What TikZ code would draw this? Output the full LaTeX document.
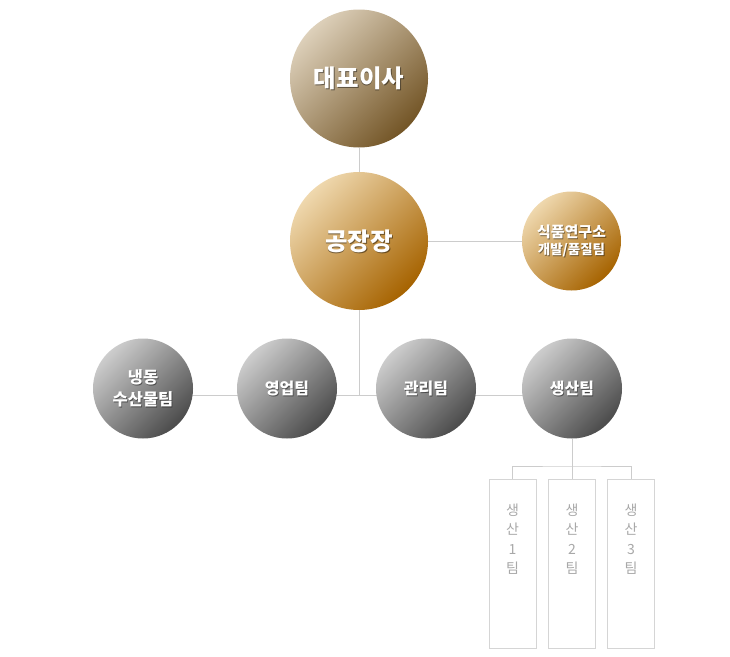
\documentclass[tikz,border=0pt]{standalone}
\usepackage{fontspec}
\newfontfamily\kr{Noto Sans CJK KR}
\usetikzlibrary{backgrounds}
\definecolor{conncol}{HTML}{CCCCCC}
\definecolor{boxcol}{HTML}{D5D5D5}
\definecolor{boxtxt}{HTML}{A8A8A8}
\definecolor{brownL}{HTML}{DDD0BA}
\definecolor{brownD}{HTML}{735526}
\definecolor{goldL}{HTML}{EFD8AE}
\definecolor{goldD}{HTML}{A66300}
\definecolor{grayL}{HTML}{CDCDCD}
\definecolor{grayD}{HTML}{4B4B4B}
\tikzset{
  conn/.style={draw=conncol, line width=1pt},
  ball/.style={circle, inner sep=0pt, minimum size=#1},
  brownball/.style={ball=#1, top color=brownL, bottom color=brownD, shading angle=45},
  goldball/.style={ball=#1, top color=goldL, bottom color=goldD, shading angle=45},
  grayball/.style={ball=#1, top color=grayL, bottom color=grayD, shading angle=45},
  ttxt/.style={text=white, align=center, font=\kr\bfseries},
  tshadow/.style={text=black, opacity=0.45, align=center, font=\kr\bfseries},
  teambox/.style={draw=boxcol, line width=1pt, minimum width=47pt, minimum height=169pt, inner sep=0pt},
  boxlabel/.style={text=boxtxt, align=center, anchor=north, font=\kr\fontsize{14}{19.5}\selectfont}
}
\newcommand{\balltext}[4]{% name, position, size cmds, text
  \node[tshadow, font=\kr\bfseries#3] (#1s) at ([xshift=0.8pt,yshift=-1pt]#2) {#4};
  \node[ttxt, font=\kr\bfseries#3] (#1t) at (#2) {#4};
}
\begin{document}
\begin{tikzpicture}[x=1pt,y=-1pt]
\useasboundingbox (0,0) rectangle (730,656);
% background connectors
\coordinate (hl) at (143,395);
\coordinate (hr) at (572,395);
\coordinate (vj) at (359,395);
\draw[conn] (hl) -- (hr);
% circles
\node[brownball=138pt] (ceo) at (359,78.5) {};
\node[goldball=138pt] (plant) at (359,241) {};
\node[goldball=99pt] (lab) at (571.5,241) {};
\node[grayball=100pt] (frozen) at (143,388.5) {};
\node[grayball=100pt] (sales) at (287,388.5) {};
\node[grayball=100pt] (admin) at (426,388.5) {};
\node[grayball=100pt] (prod) at (572,388.5) {};
\begin{scope}[on background layer]
\draw[conn] (plant) -- (lab);
\end{scope}
\draw[conn] (ceo.south) -- (plant.north);
\draw[conn] (plant.south) -- (vj);
% texts
\balltext{ceo}{ceo.center}{\fontsize{24.5}{28}\selectfont}{대표이사}
\balltext{plant}{plant.center}{\fontsize{24.5}{28}\selectfont}{공장장}
\balltext{lab}{lab.center}{\fontsize{15}{18}\selectfont}{식품연구소\\[-1pt]{\fontsize{13.5}{15}\selectfont 개발/품질팀}}
\balltext{frozen}{frozen.center}{\fontsize{16.5}{22}\selectfont}{냉동\\수산물팀}
\balltext{sales}{sales.center}{\fontsize{16}{18}\selectfont}{영업팀}
\balltext{admin}{admin.center}{\fontsize{16}{18}\selectfont}{관리팀}
\balltext{prod}{prod.center}{\fontsize{16}{18}\selectfont}{생산팀}
% production sub-teams
\node[teambox] (p1) at (512.5,563.5) {};
\node[teambox] (p2) at (572,563.5) {};
\node[teambox] (p3) at (631,563.5) {};
\coordinate (pj) at (572,466);
\draw[conn] (prod.south) -- (pj);
\draw[conn] (p1.north) |- (pj) -| (p3.north);
\draw[conn] (pj) -- (p2.north);
\node[boxlabel] (p1t) at (512.5,500) {생\\산\\1\\팀};
\node[boxlabel] (p2t) at (572,500) {생\\산\\2\\팀};
\node[boxlabel] (p3t) at (631,500) {생\\산\\3\\팀};
\end{tikzpicture}
\end{document}
